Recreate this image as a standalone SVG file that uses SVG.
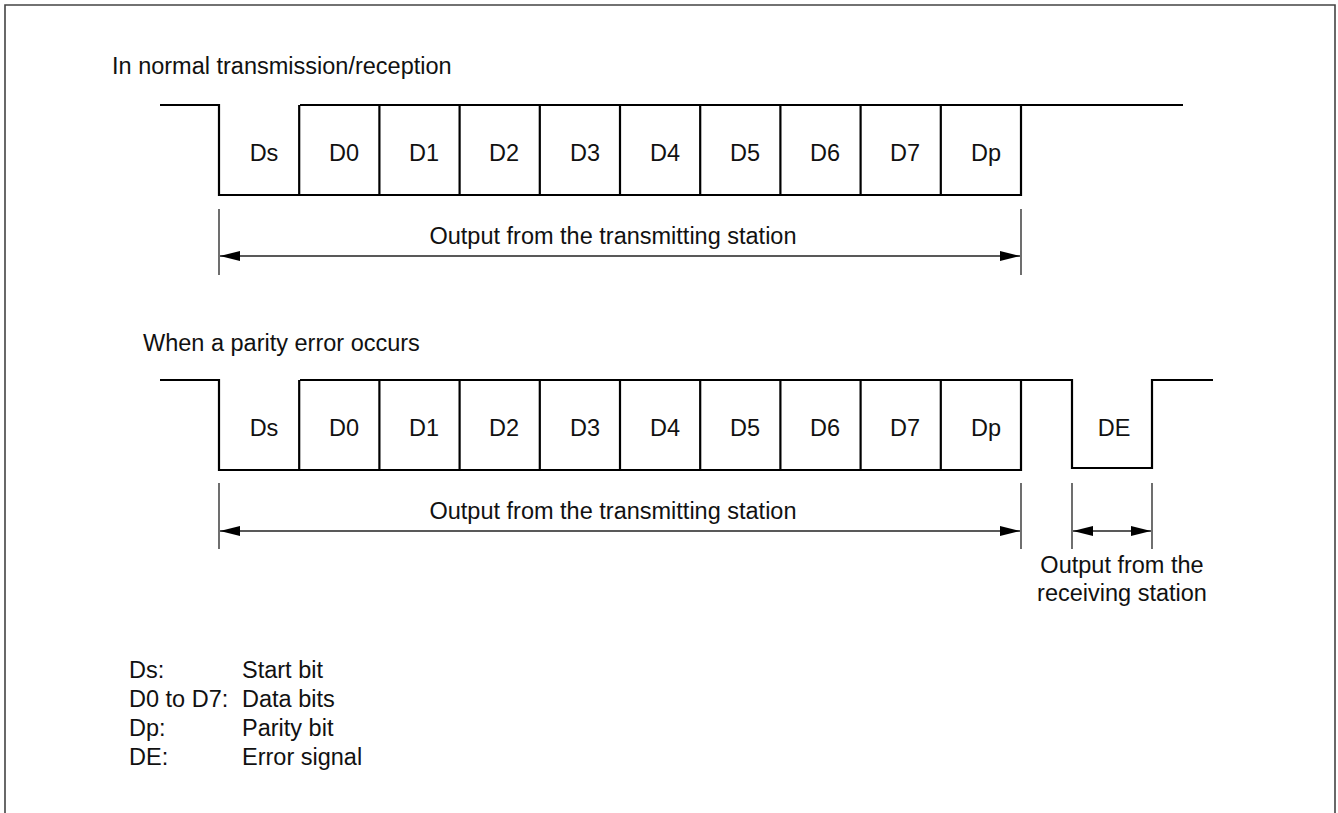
<svg xmlns="http://www.w3.org/2000/svg" width="1338" height="813" viewBox="0 0 1338 813">
<defs>
<style>
text{font-family:"Liberation Sans",Arial,sans-serif;font-size:23.5px;fill:#111}
.c{text-anchor:middle}
.wave{fill:none;stroke:#000;stroke-width:2.2}
.div{stroke:#000;stroke-width:2.2}
.tick{stroke:#222;stroke-width:1.3}
.dim{stroke:#222;stroke-width:1.3;fill:none;marker-start:url(#ah);marker-end:url(#ah)}
</style>
<marker id="ah" markerUnits="userSpaceOnUse" markerWidth="20" markerHeight="12" viewBox="0 0 20 12" refX="20" refY="6" orient="auto-start-reverse">
<path d="M0,1 L20,6 L0,11 z" fill="#000"/>
</marker>
</defs>
<rect width="1338" height="813" fill="#fff"/>
<path d="M5,830 V5 H1335 V830" fill="none" stroke="#444" stroke-width="1.6"/>

<text x="112" y="74">In normal transmission/reception</text>
<text x="143" y="351">When a parity error occurs</text>

<g id="wave1">
<path class="wave" d="M160,105 H219 V195 H1021 V105 M300,105 H1183"/>
<path class="div" d="M299.2,105 V195 M379.4,105 V195 M459.6,105 V195 M539.8,105 V195 M620,105 V195 M700.2,105 V195 M780.4,105 V195 M860.6,105 V195 M940.8,105 V195"/>
<text class="c" x="264" y="161">Ds</text>
<text class="c" x="344" y="161">D0</text>
<text class="c" x="424" y="161">D1</text>
<text class="c" x="504" y="161">D2</text>
<text class="c" x="585" y="161">D3</text>
<text class="c" x="665" y="161">D4</text>
<text class="c" x="745" y="161">D5</text>
<text class="c" x="825" y="161">D6</text>
<text class="c" x="905" y="161">D7</text>
<text class="c" x="986" y="161">Dp</text>
</g>

<g id="wave2">
<path class="wave" d="M160,380 H219 V470 H1021 V380 M300,380 H1072 V468 H1152 V380 H1213"/>
<path class="div" d="M299.2,380 V470 M379.4,380 V470 M459.6,380 V470 M539.8,380 V470 M620,380 V470 M700.2,380 V470 M780.4,380 V470 M860.6,380 V470 M940.8,380 V470"/>
<text class="c" x="264" y="436">Ds</text>
<text class="c" x="344" y="436">D0</text>
<text class="c" x="424" y="436">D1</text>
<text class="c" x="504" y="436">D2</text>
<text class="c" x="585" y="436">D3</text>
<text class="c" x="665" y="436">D4</text>
<text class="c" x="745" y="436">D5</text>
<text class="c" x="825" y="436">D6</text>
<text class="c" x="905" y="436">D7</text>
<text class="c" x="986" y="436">Dp</text>
<text class="c" x="1114" y="436">DE</text>
</g>

<g id="connectors">
<path class="tick" d="M219,209 V275 M1021,209 V275"/>
<line class="dim" x1="220" y1="256" x2="1020" y2="256"/>
<path class="tick" d="M219,483 V549 M1021,483 V549 M1072,483 V549 M1152,483 V549"/>
<line class="dim" x1="220" y1="531" x2="1020" y2="531"/>
<line class="dim" x1="1073" y1="531" x2="1151" y2="531"/>
</g>

<g id="labels">
<text class="c" x="613" y="244">Output from the transmitting station</text>
<text class="c" x="613" y="519">Output from the transmitting station</text>
<text class="c" x="1122" y="573">Output from the</text>
<text class="c" x="1122" y="601">receiving station</text>
</g>

<g id="legend">
<text x="129" y="678">Ds:</text>
<text x="242" y="678">Start bit</text>
<text x="129" y="707">D0 to D7:</text>
<text x="242" y="707">Data bits</text>
<text x="129" y="736">Dp:</text>
<text x="242" y="736">Parity bit</text>
<text x="129" y="765">DE:</text>
<text x="242" y="765">Error signal</text>
</g>
</svg>
